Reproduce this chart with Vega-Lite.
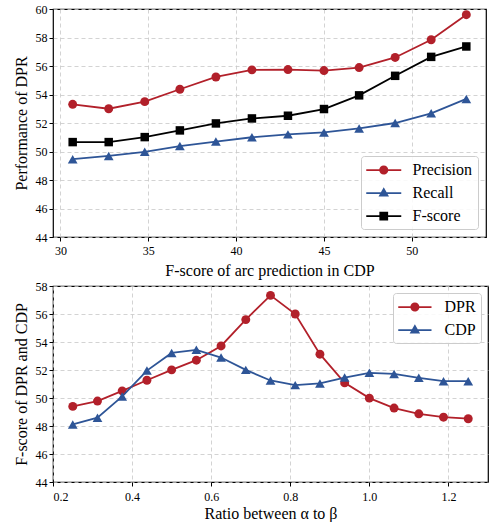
{
  "$schema": "https://vega.github.io/schema/vega-lite/v6.json",
  "padding": {"left": 12, "top": 2, "right": 0, "bottom": 0},
  "spacing": 0,
  "datasets": {
    "top": [
      {"x": 30.7, "series": "Precision", "y": 53.31}, {"x": 32.75, "series": "Precision", "y": 53.0}, {"x": 34.8, "series": "Precision", "y": 53.5}, {"x": 36.8, "series": "Precision", "y": 54.37}, {"x": 38.85, "series": "Precision", "y": 55.23}, {"x": 40.9, "series": "Precision", "y": 55.73}, {"x": 42.95, "series": "Precision", "y": 55.75}, {"x": 45.0, "series": "Precision", "y": 55.68}, {"x": 47.0, "series": "Precision", "y": 55.89}, {"x": 49.05, "series": "Precision", "y": 56.6}, {"x": 51.1, "series": "Precision", "y": 57.84}, {"x": 53.1, "series": "Precision", "y": 59.6},
      {"x": 30.7, "series": "Recall", "y": 49.46}, {"x": 32.75, "series": "Recall", "y": 49.69}, {"x": 34.8, "series": "Recall", "y": 49.98}, {"x": 36.8, "series": "Recall", "y": 50.38}, {"x": 38.85, "series": "Recall", "y": 50.7}, {"x": 40.9, "series": "Recall", "y": 51.0}, {"x": 42.95, "series": "Recall", "y": 51.2}, {"x": 45.0, "series": "Recall", "y": 51.34}, {"x": 47.0, "series": "Recall", "y": 51.62}, {"x": 49.05, "series": "Recall", "y": 52.0}, {"x": 51.1, "series": "Recall", "y": 52.68}, {"x": 53.1, "series": "Recall", "y": 53.69},
      {"x": 30.7, "series": "F-score", "y": 50.66}, {"x": 32.75, "series": "F-score", "y": 50.66}, {"x": 34.8, "series": "F-score", "y": 51.01}, {"x": 36.8, "series": "F-score", "y": 51.48}, {"x": 38.85, "series": "F-score", "y": 51.97}, {"x": 40.9, "series": "F-score", "y": 52.32}, {"x": 42.95, "series": "F-score", "y": 52.51}, {"x": 45.0, "series": "F-score", "y": 52.98}, {"x": 47.0, "series": "F-score", "y": 53.94}, {"x": 49.05, "series": "F-score", "y": 55.31}, {"x": 51.1, "series": "F-score", "y": 56.64}, {"x": 53.1, "series": "F-score", "y": 57.37}
    ],
    "bottom": [
      {"x": 0.25, "series": "DPR", "y": 49.4}, {"x": 0.3125, "series": "DPR", "y": 49.78}, {"x": 0.375, "series": "DPR", "y": 50.51}, {"x": 0.4375, "series": "DPR", "y": 51.27}, {"x": 0.5, "series": "DPR", "y": 52.01}, {"x": 0.5625, "series": "DPR", "y": 52.7}, {"x": 0.625, "series": "DPR", "y": 53.72}, {"x": 0.6875, "series": "DPR", "y": 55.6}, {"x": 0.75, "series": "DPR", "y": 57.33}, {"x": 0.8125, "series": "DPR", "y": 56.0}, {"x": 0.875, "series": "DPR", "y": 53.13}, {"x": 0.9375, "series": "DPR", "y": 51.08}, {"x": 1.0, "series": "DPR", "y": 49.99}, {"x": 1.0625, "series": "DPR", "y": 49.28}, {"x": 1.125, "series": "DPR", "y": 48.87}, {"x": 1.1875, "series": "DPR", "y": 48.63}, {"x": 1.25, "series": "DPR", "y": 48.52},
      {"x": 0.25, "series": "CDP", "y": 48.11}, {"x": 0.3125, "series": "CDP", "y": 48.59}, {"x": 0.375, "series": "CDP", "y": 50.11}, {"x": 0.4375, "series": "CDP", "y": 51.96}, {"x": 0.5, "series": "CDP", "y": 53.22}, {"x": 0.5625, "series": "CDP", "y": 53.44}, {"x": 0.625, "series": "CDP", "y": 52.89}, {"x": 0.6875, "series": "CDP", "y": 52.01}, {"x": 0.75, "series": "CDP", "y": 51.25}, {"x": 0.8125, "series": "CDP", "y": 50.92}, {"x": 0.875, "series": "CDP", "y": 51.04}, {"x": 0.9375, "series": "CDP", "y": 51.46}, {"x": 1.0, "series": "CDP", "y": 51.8}, {"x": 1.0625, "series": "CDP", "y": 51.72}, {"x": 1.125, "series": "CDP", "y": 51.44}, {"x": 1.1875, "series": "CDP", "y": 51.2}, {"x": 1.25, "series": "CDP", "y": 51.2}
    ]
  },
  "vconcat": [
    {
      "width": 433,
      "height": 228,
      "data": {"name": "top"},
      "encoding": {
        "x": {"field": "x", "type": "quantitative", "scale": {"domain": [29.58, 54.22], "nice": false, "zero": false}, "axis": {"values": [30, 35, 40, 45, 50], "title": "F-score of arc prediction in CDP", "labelPadding": 4}},
        "y": {"field": "y", "type": "quantitative", "scale": {"domain": [44, 60], "nice": false, "zero": false}, "axis": {"values": [44, 46, 48, 50, 52, 54, 56, 58, 60], "title": "Performance of DPR"}}
      },
      "layer": [
        {
          "transform": [{"filter": "datum.series === 'Precision'"}],
          "mark": {"type": "line", "color": "#B2202A", "strokeWidth": 1.8, "point": {"filled": true, "shape": "circle", "size": 80, "color": "#B2202A", "opacity": 1}}
        },
        {
          "transform": [{"filter": "datum.series === 'Recall'"}],
          "mark": {"type": "line", "color": "#2E5597", "strokeWidth": 1.8, "point": {"filled": true, "shape": "triangle-up", "size": 95, "color": "#2E5597", "opacity": 1}}
        },
        {
          "transform": [{"filter": "datum.series === 'F-score'"}],
          "mark": {"type": "line", "color": "#000000", "strokeWidth": 1.8, "point": {"filled": true, "shape": "square", "size": 72, "color": "#000000", "opacity": 1}}
        },
        {
          "mark": {"type": "point", "filled": true, "opacity": 0, "size": 306.25},
          "encoding": {
            "color": {"field": "series", "type": "nominal", "scale": {"domain": ["Precision", "Recall", "F-score"], "range": ["#B2202A", "#2E5597", "#000000"]}, "legend": {"title": null, "orient": "bottom-right", "offset": 8}},
            "shape": {"field": "series", "type": "nominal", "scale": {"domain": ["Precision", "Recall", "F-score"], "range": [
              "M-1,-0.1H3V0.1H-1Z M1.52,0A0.52,0.52,0,1,1,0.48,0A0.52,0.52,0,1,1,1.52,0Z",
              "M-1,-0.1H3V0.1H-1Z M1,-0.66L1.6,0.4L0.4,0.4Z",
              "M-1,-0.1H3V0.1H-1Z M0.5,-0.5L1.5,-0.5L1.5,0.5L0.5,0.5Z"]}, "legend": {"title": null, "orient": "bottom-right", "offset": 8}}
          }
        }
      ]
    },
    {
      "width": 435,
      "height": 196,
      "data": {"name": "bottom"},
      "encoding": {
        "x": {"field": "x", "type": "quantitative", "scale": {"domain": [0.2, 1.3], "nice": false, "zero": false}, "axis": {"values": [0.2, 0.4, 0.6, 0.8, 1.0, 1.2], "format": ".1f", "title": "Ratio between α to β", "labelPadding": 5, "titlePadding": 3}},
        "y": {"field": "y", "type": "quantitative", "scale": {"domain": [44, 58], "nice": false, "zero": false}, "axis": {"values": [44, 46, 48, 50, 52, 54, 56, 58], "title": "F-score of DPR and CDP"}}
      },
      "layer": [
        {
          "transform": [{"filter": "datum.series === 'DPR'"}],
          "mark": {"type": "line", "color": "#B2202A", "strokeWidth": 1.8, "point": {"filled": true, "shape": "circle", "size": 80, "color": "#B2202A", "opacity": 1}}
        },
        {
          "transform": [{"filter": "datum.series === 'CDP'"}],
          "mark": {"type": "line", "color": "#2E5597", "strokeWidth": 1.8, "point": {"filled": true, "shape": "triangle-up", "size": 95, "color": "#2E5597", "opacity": 1}}
        },
        {
          "mark": {"type": "point", "filled": true, "opacity": 0, "size": 306.25},
          "encoding": {
            "color": {"field": "series", "type": "nominal", "scale": {"domain": ["DPR", "CDP"], "range": ["#B2202A", "#2E5597"]}, "legend": {"title": null, "orient": "top-right", "offset": 7}},
            "shape": {"field": "series", "type": "nominal", "scale": {"domain": ["DPR", "CDP"], "range": [
              "M-1,-0.1H2.8V0.1H-1Z M1.42,0A0.52,0.52,0,1,1,0.38,0A0.52,0.52,0,1,1,1.42,0Z",
              "M-1,-0.1H2.8V0.1H-1Z M0.9,-0.66L1.5,0.4L0.3,0.4Z"]}, "legend": {"title": null, "orient": "top-right", "offset": 7}}
          }
        }
      ]
    }
  ],
  "resolve": {"scale": {"color": "independent", "shape": "independent"}, "legend": {"color": "independent", "shape": "independent"}},
  "config": {
    "font": "Liberation Serif",
    "view": {"stroke": "#000000", "strokeWidth": 1.2},
    "axis": {
      "labelFont": "Liberation Serif", "labelFontSize": 12, "labelColor": "#000000",
      "titleFont": "Liberation Serif", "titleFontSize": 16, "titleFontWeight": "normal", "titleColor": "#000000",
      "domain": false, "tickColor": "#000000", "tickSize": 4, "tickWidth": 1,
      "gridColor": "#c8c8c8", "gridDash": [4, 3], "gridWidth": 0.8,
      "labelPadding": 2, "titlePadding": 6
    },
    "legend": {
      "labelFont": "Liberation Serif", "labelFontSize": 16, "labelColor": "#000000",
      "symbolSize": 306.25, "symbolOpacity": 1, "symbolStrokeWidth": 0, "labelOffset": 28.5,
      "rowPadding": 6, "padding": 5, "strokeColor": "#cccccc", "fillColor": "rgba(255,255,255,0.85)",
      "cornerRadius": 3
    }
  }
}
